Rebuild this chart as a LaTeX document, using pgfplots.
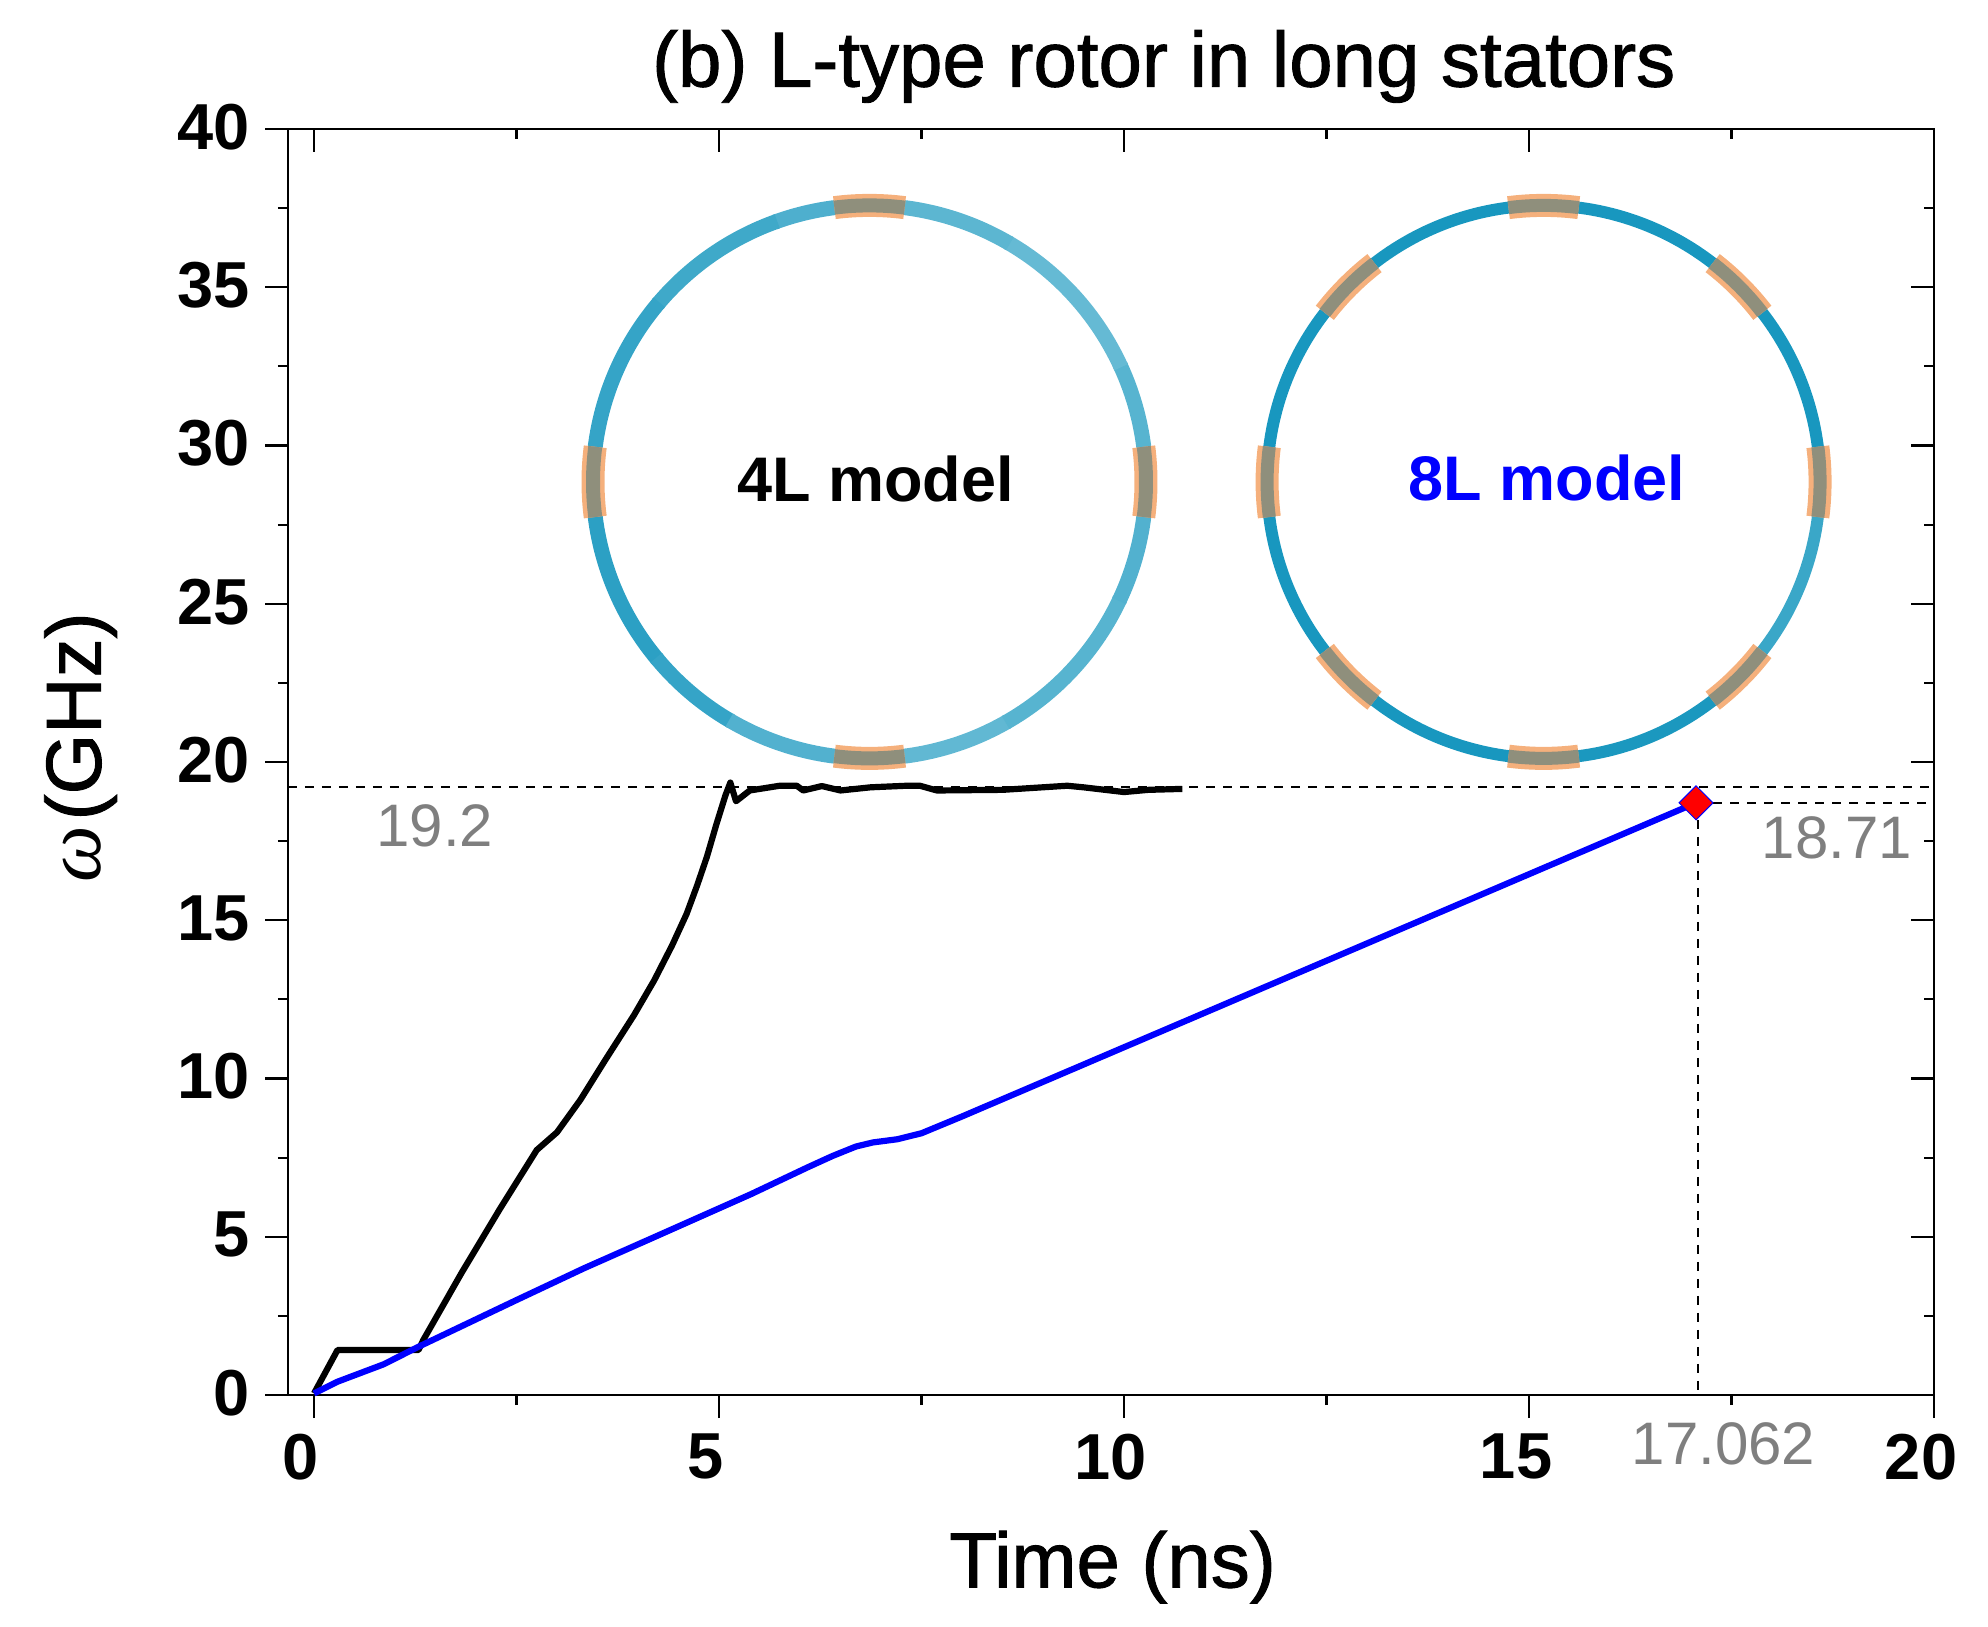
\documentclass[border=0pt]{standalone}
\usepackage{fontspec}
\setmainfont{Liberation Sans}
\newfontfamily\serifit{Liberation Serif}
\newfontfamily\heavy[FakeBold=1.2]{Liberation Sans}
\usepackage{pgfplots}
\pgfplotsset{compat=1.18}

\definecolor{ringblue}{HTML}{0F93BC}
\definecolor{blockorange}{HTML}{F5B07C}
\definecolor{blockgray}{HTML}{8F8F7C}
\definecolor{notegray}{HTML}{7F7F7F}

\newcommand{\tickfont}{\fontsize{32.5bp}{40bp}\selectfont\bfseries}
\newcommand{\labfont}{\fontsize{39bp}{46bp}\selectfont\heavy}
\newcommand{\notefont}{\fontsize{30bp}{36bp}\selectfont}

\pgfplotsset{
    base/.style={
        scale only axis,
        width=823bp, height=633bp,
        xmin=-0.321, xmax=20,
        ymin=0, ymax=40,
        xtick={0,5,10,15,20},
        ytick={0,5,...,40},
        minor x tick num=1,
        minor y tick num=1,
        major tick length=11.5bp,
        minor tick length=5bp,
        every tick/.style={black, line width=1.1bp},
        axis line style={line width=1.25bp},
        clip=false,
    }
}

\begin{document}
\begin{tikzpicture}
\useasboundingbox (-144bp,-116bp) rectangle (850bp,697.5bp);

% top and right ticks point inwards, so they get their own axis
\begin{axis}[base, xtick pos=top, ytick pos=right, tick align=inside,
    xticklabels={}, yticklabels={}]
\end{axis}

\begin{axis}[base, xtick pos=bottom, ytick pos=left, tick align=outside,
    /pgf/number format/assume math mode=true,
    tick label style={font=\tickfont},
    xticklabel style={xshift=-6.5bp, yshift=-4.5bp},
    yticklabel style={xshift=-4bp, yshift=1bp},
    title={\labfont (b) L-type rotor in long stators},
    title style={at={(axis description cs:0.532,1.040)}, anchor=center, inner sep=0pt, yshift=0pt},
    xlabel={\labfont Time (ns)},
    xlabel style={at={(axis description cs:0.501,-0.136)}, anchor=center, inner sep=0pt},
    ylabel={{\fontsize{40bp}{46bp}\selectfont\serifit\itshape ω} {\labfont (GHz)}},
    ylabel style={at={(axis description cs:-0.126,0.5115)}, anchor=center, inner sep=0pt},
]

% guide lines
\addplot[black, line width=0.85bp, dash pattern=on 4.5bp off 4bp] coordinates {(-0.321,19.2) (20,19.2)};
\addplot[black, line width=0.85bp, dash pattern=on 4.5bp off 4bp] coordinates {(17.062,18.71) (19.9,18.71)};
\addplot[black, line width=0.85bp, dash pattern=on 4.5bp off 4bp] coordinates {(17.09,18.71) (17.09,0)};

% 4L model
\addplot[black, line width=3.1bp, line join=round] coordinates {
    (0,0.05) (0.29,1.42) (1.29,1.42) (1.35,1.74) (1.82,3.85) (2.3,5.9) (2.75,7.74)
    (3.0,8.3) (3.29,9.33) (3.6,10.6) (3.95,12.0) (4.2,13.1) (4.42,14.2)
    (4.6,15.2) (4.73,16.1) (4.85,17.0) (4.97,18.05) (5.08,18.95) (5.14,19.35)
    (5.21,18.76) (5.38,19.1) (5.75,19.25) (5.96,19.25) (6.04,19.1) (6.27,19.24)
    (6.5,19.1) (6.87,19.2) (7.32,19.25) (7.48,19.25) (7.69,19.1) (8.5,19.12)
    (9.3,19.25) (9.5,19.2) (10,19.05) (10.3,19.12) (10.72,19.15)
};

% 8L model
\addplot[blue, line width=3.1bp, line join=round] coordinates {
    (0,0.05) (0.29,0.42) (0.86,0.97) (1.27,1.5) (2.5,3.0) (3.33,4.0) (4.15,4.93)
    (5.39,6.34) (6.1,7.2) (6.4,7.55) (6.69,7.85) (6.9,7.98) (7.2,8.08) (7.5,8.27)
    (8.0,8.8) (17.062,18.71)
};

% end point
\addplot[only marks, mark=diamond*, mark size=8.5bp,
    mark options={fill=red, draw=blue, line width=0.5bp, xscale=1.333}]
    coordinates {(17.062,18.71)};

\node[font=\notefont, text=notegray] at (axis cs:1.49,17.98) {19.2};
\node[font=\notefont, text=notegray] at (axis cs:18.8,17.59) {18.71};
\node[font=\notefont, text=notegray] at (axis cs:17.4,-1.55) {17.062};

\coordinate (r1) at (axis cs:6.858,28.85);
\coordinate (r2) at (axis cs:15.18,28.85);
\node[font=\fontsize{31.5bp}{37bp}\selectfont\bfseries] at (axis cs:6.93,28.93) {4L model};
\node[font=\fontsize{31.5bp}{37bp}\selectfont\bfseries, text=blue] at (axis cs:15.22,28.98) {8L model};
\end{axis}

% ring sketches
\foreach \a/\b/\p in {-90.5/-60/66, -60.5/-25/70, -25.5/0/72, -0.5/25/70, 24.5/60/64, 59.5/90/68,
    89.5/110/74, 109.5/140/80, 139.5/180/84, 179.5/220/88, 219.5/240/84, 239.5/270/72}
    \draw[ringblue!\p!white, line width=7.5bp]
        ([shift={(\a:138.25bp)}]r1) arc[start angle=\a, end angle=\b, radius=138.25bp];
\foreach \a/\b/\p in {-90.5/-50/95, -50.5/-5/82, -5.5/90/96, 89.5/270/96}
    \draw[ringblue!\p!white, line width=6bp]
        ([shift={(\a:138.25bp)}]r2) arc[start angle=\a, end angle=\b, radius=138.25bp];

\foreach \t in {0,90,180,270} {
    \draw[blockorange, line width=11.5bp]
        ([shift={(\t-7.3:138.25bp)}]r1) arc[start angle=\t-7.3, end angle=\t+7.3, radius=138.25bp];
    \draw[blockgray, line width=7bp]
        ([shift={(\t-7.3:138.25bp)}]r1) arc[start angle=\t-7.3, end angle=\t+7.3, radius=138.25bp];
}
\foreach \t in {0,45,...,315} {
    \draw[blockorange, line width=11.5bp]
        ([shift={(\t-7.3:138.25bp)}]r2) arc[start angle=\t-7.3, end angle=\t+7.3, radius=138.25bp];
    \draw[blockgray, line width=6.5bp]
        ([shift={(\t-7.3:138.25bp)}]r2) arc[start angle=\t-7.3, end angle=\t+7.3, radius=138.25bp];
}
\end{tikzpicture}
\end{document}
